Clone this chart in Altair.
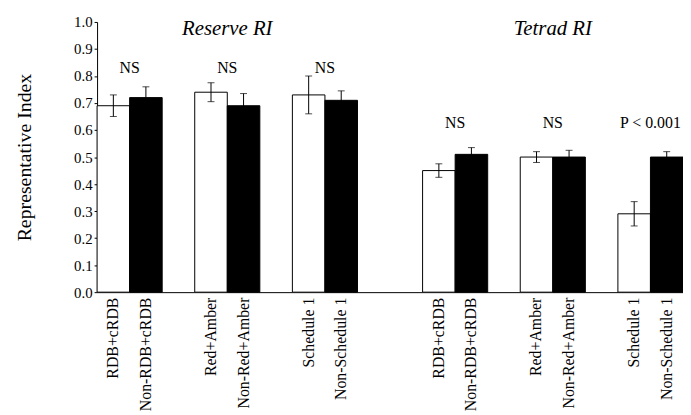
import altair as alt
import pandas as pd

panels = ["Reserve", "Tetrad"]
panel_titles = ["Reserve RI", "Tetrad RI"]
white_labels = ["RDB+cRDB", "Red+Amber", "Schedule 1"]
black_labels = ["Non-RDB+cRDB", "Non-Red+Amber", "Non-Schedule 1"]

white_vals = {"Reserve": [0.69, 0.74, 0.73], "Tetrad": [0.45, 0.50, 0.29]}
white_err = {"Reserve": [0.04, 0.035, 0.07], "Tetrad": [0.025, 0.02, 0.045]}
black_vals = {"Reserve": [0.72, 0.69, 0.71], "Tetrad": [0.51, 0.50, 0.50]}
black_err = {"Reserve": [0.04, 0.045, 0.035], "Tetrad": [0.025, 0.025, 0.02]}

sig_labels = {"Reserve": ["NS", "NS", "NS"], "Tetrad": ["NS", "NS", "P < 0.001"]}
sig_height = {"Reserve": 0.81, "Tetrad": 0.607}
y_ticks = [round(i * 0.1, 1) for i in range(11)]

# build band domain (with empty spacer slots between groups)
domain = []
gap_n = 0
for pi, p in enumerate(panels):
    for gi in range(len(white_labels)):
        domain.append(f"{p}|{white_labels[gi]}")
        domain.append(f"{p}|{black_labels[gi]}")
        if not (pi == len(panels) - 1 and gi == len(white_labels) - 1):
            domain.append(f"gap{gap_n}|")
            gap_n += 1
    if pi < len(panels) - 1:
        domain.append(f"gap{gap_n}|")
        gap_n += 1

bars = []
sig = []
for p in panels:
    for gi in range(len(white_labels)):
        wk = f"{p}|{white_labels[gi]}"
        bk = f"{p}|{black_labels[gi]}"
        wv, we = white_vals[p][gi], white_err[p][gi]
        bv, be = black_vals[p][gi], black_err[p][gi]
        bars.append(dict(key=wk, value=wv, lo=wv - we, hi=wv + we, kind="white"))
        bars.append(dict(key=bk, value=bv, lo=bv - be, hi=bv + be, kind="black"))
        sig.append(dict(key=wk, value=sig_height[p], text=sig_labels[p][gi]))

titles = [dict(key=f"{p}|{white_labels[1]}", value=0.952, text=t) for p, t in zip(panels, panel_titles)]

df = pd.DataFrame(bars)
sig_df = pd.DataFrame(sig)
title_df = pd.DataFrame(titles)

FONT = "Liberation Serif"

xscale = alt.Scale(domain=domain, paddingInner=0, paddingOuter=0)
yscale = alt.Scale(domain=[0, 1])

x_axis = alt.Axis(
    title=None,
    labelExpr="split(datum.value, '|')[1]",
    labelAngle=-90,
    ticks=False,
    labelPadding=5,
    labelFont=FONT,
    labelFontSize=16,
    labelColor="black",
    domainColor="black",
    labelOverlap=False,
)
y_axis = alt.Axis(
    values=y_ticks,
    format=".1f",
    title="Representative Index",
    titleFont=FONT,
    titleFontSize=20,
    titleFontWeight="normal",
    titleColor="black",
    titlePadding=40,
    labelFont=FONT,
    labelFontSize=15,
    labelColor="black",
    labelPadding=2,
    labelOverlap=False,
    labelFlush=False,
    tickSize=3,
    tickColor="black",
    domainColor="black",
    grid=False,
)


def X(**kw):
    return alt.X("key:N", scale=xscale, sort=domain, axis=x_axis, **kw)


def Y(field):
    return alt.Y(field, scale=yscale, axis=y_axis)


bar_layer = alt.Chart(df).mark_bar(stroke="black", strokeWidth=1).encode(
    x=X(),
    y=Y("value:Q"),
    fill=alt.Fill("kind:N", scale=alt.Scale(domain=["white", "black"], range=["white", "black"]), legend=None),
)

err_rule = alt.Chart(df).mark_rule(color="black", strokeWidth=1).encode(
    x=X(),
    y=Y("lo:Q"),
    y2="hi:Q",
)
cap_hi = alt.Chart(df).mark_tick(color="black", size=7, thickness=1).encode(
    x=X(),
    y=Y("hi:Q"),
)
cap_lo = alt.Chart(df).mark_tick(color="black", size=7, thickness=1).encode(
    x=X(),
    y=Y("lo:Q"),
)

sig_layer = alt.Chart(sig_df).mark_text(font=FONT, fontSize=16, color="black", baseline="alphabetic").encode(
    x=X(bandPosition=1),
    y=Y("value:Q"),
    text="text:N",
)

title_layer = alt.Chart(title_df).mark_text(
    font=FONT, fontSize=21, fontStyle="italic", color="black", baseline="alphabetic"
).encode(
    x=X(bandPosition=1),
    y=Y("value:Q"),
    text="text:N",
)

chart = (
    alt.layer(bar_layer, err_rule, cap_hi, cap_lo, sig_layer, title_layer)
    .properties(
        width=592,
        height=273,
        padding={"left": 90, "top": 12, "right": 0, "bottom": 121},
        autosize=alt.AutoSizeParams(type="none"),
        background="white",
    )
    .configure_view(stroke=None)
    .configure_axis(labelFont=FONT, titleFont=FONT)
    .configure_text(font=FONT)
)

chart.save("out.html", embed_options={"renderer": "svg", "actions": False})
